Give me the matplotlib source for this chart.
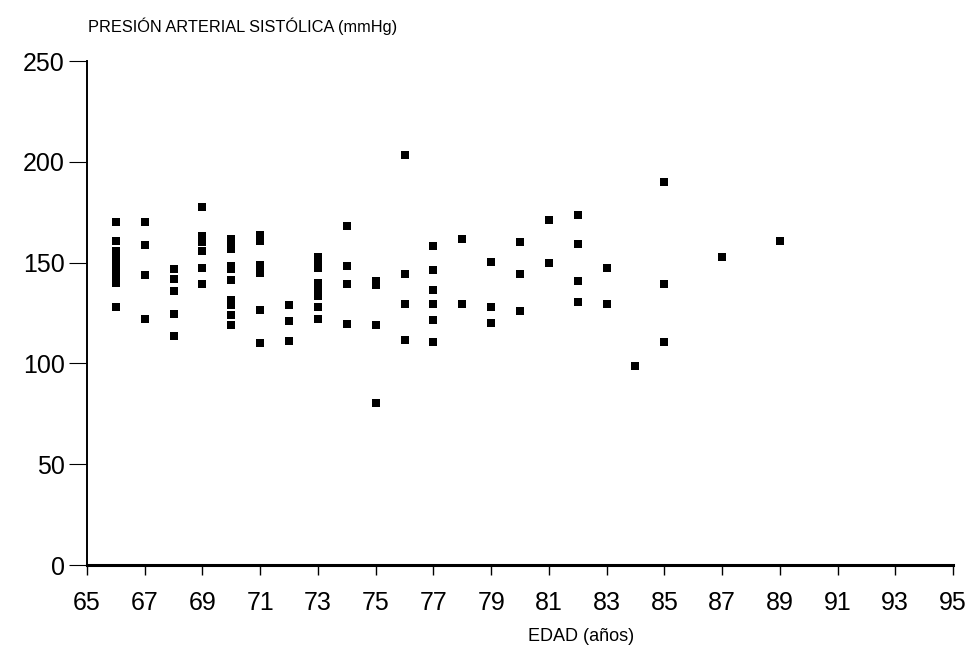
import matplotlib
matplotlib.use("Agg")
import matplotlib.pyplot as plt

plt.rcParams['font.family'] = ['Liberation Sans', 'DejaVu Sans']

# edad (años) y presión arterial sistólica (mmHg)
edad = ([66] * 9 + [67] * 4 + [68] * 5 + [69] * 6 + [70] * 10 + [71] * 6 +
        [72] * 3 + [73] * 8 + [74] * 4 + [75] * 4 + [76] * 4 + [77] * 6 +
        [78] * 2 + [79] * 3 + [80] * 3 + [81] * 2 + [82] * 4 + [83] * 2 +
        [84] + [85] * 3 + [87] + [89])
pas = [170, 161, 156, 153, 149, 146, 143, 140, 128,
       170, 159, 144, 122,
       146.7, 142, 136, 124.3, 113.5,
       177.6, 163.4, 160.2, 155.7, 147.6, 139.2,
       161.5, 159, 157, 148.5, 147, 141.5, 131.5, 129, 124, 119,
       163.7, 160.7, 148.8, 144.9, 126.4, 110.2,
       129, 121, 111,
       153, 150, 147.5, 140, 137, 133.5, 128, 122.3,
       168, 148.2, 139.3, 119.8,
       141, 139, 119.3, 80.2,
       203.3, 144.6, 129.4, 111.5,
       158.5, 146.6, 136.3, 129.7, 121.5, 110.7,
       161.5, 129.3,
       150.4, 128, 120.1,
       160.5, 144.3, 126.2,
       171, 150,
       173.5, 159.5, 140.7, 130.5,
       147.6, 129.5,
       98.7,
       190, 139.2, 110.7,
       152.6,
       160.8]

xticks = list(range(65, 96, 2))
yticks = [0, 50, 100, 150, 200, 250]

fig = plt.figure(figsize=(9.72, 6.64), dpi=100)
ax = fig.add_axes([0.0895, 0.149, 0.891, 0.759])

ax.scatter(edad, pas, marker='s', s=28, color='black', linewidths=0, zorder=3)

ax.set_xlim(65, 95)
ax.set_ylim(0, 250)
ax.set_xticks(xticks)
ax.set_yticks(yticks)
ax.tick_params(axis='x', direction='out', length=7, width=1, pad=12, labelsize=18)
ax.tick_params(axis='y', direction='out', length=13, width=0.8, pad=3, labelsize=18)

ax.spines['top'].set_visible(False)
ax.spines['right'].set_visible(False)
ax.spines['left'].set_linewidth(1.4)
ax.spines['bottom'].set_linewidth(2.2)

fig.text(0.0905, 0.96, "PRESIÓN ARTERIAL SISTÓLICA (mmHg)", fontsize=11.8,
         ha='left', va='center')
fig.text(0.598, 0.042, "EDAD (años)", fontsize=13, ha='center', va='center')

fig.savefig("out.png", dpi=100)
